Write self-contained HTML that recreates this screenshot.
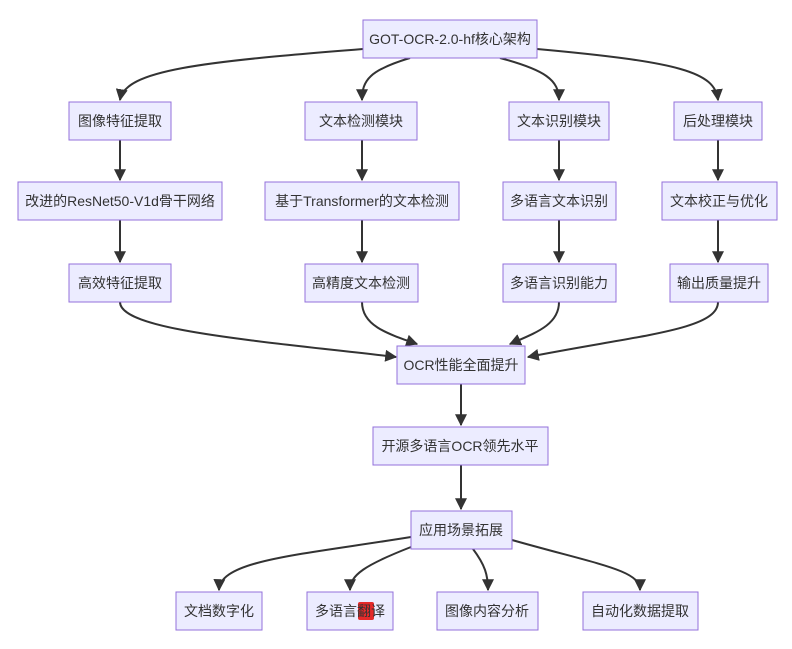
<!DOCTYPE html>
<html><head><meta charset="utf-8"><style>
html,body{margin:0;padding:0;background:#fff;}
svg{display:block;}
text{font-family:"Liberation Sans","Noto Sans CJK SC",sans-serif;font-size:14px;fill:#333;text-anchor:middle;dominant-baseline:central;}
.n{fill:#ECECFF;stroke:#9370DB;stroke-width:1;}
.e{fill:none;stroke:#333;stroke-width:2;marker-end:url(#a);}
</style></head><body>
<svg width="792" height="649" viewBox="0 0 792 649" xmlns="http://www.w3.org/2000/svg">
<defs><marker id="a" viewBox="0 0 10 10" refX="9" refY="5" markerWidth="6" markerHeight="6" orient="auto"><path d="M0,0L10,5L0,10z" fill="#333"/></marker></defs>
<!-- edges -->
<path class="e" d="M363,49 C200,62 125,70 120,100"/>
<path class="e" d="M410,58 C370,70 362,80 362,100"/>
<path class="e" d="M500,58 C545,70 559,80 559,100"/>
<path class="e" d="M537,49 C680,62 715,72 718,100"/>
<path class="e" d="M120,140 L120,180"/>
<path class="e" d="M362,140 L362,180"/>
<path class="e" d="M559,140 L559,180"/>
<path class="e" d="M718,140 L718,180"/>
<path class="e" d="M120,220 L120,262"/>
<path class="e" d="M362,220 L362,262"/>
<path class="e" d="M559,220 L559,262"/>
<path class="e" d="M718,220 L718,262"/>
<path class="e" d="M120,302 C120,330 250,340 396,357"/>
<path class="e" d="M362,302 C362,325 385,333 417,344"/>
<path class="e" d="M559,302 C559,325 535,333 510,344"/>
<path class="e" d="M718,302 C718,330 640,335 528,357"/>
<path class="e" d="M461,384 L461,425"/>
<path class="e" d="M461,465 L461,509"/>
<path class="e" d="M411,537 C300,555 220,560 219,590"/>
<path class="e" d="M411,547 C365,565 350,575 350,590"/>
<path class="e" d="M473,549 C485,565 488,575 488,590"/>
<path class="e" d="M512,540 C600,565 640,570 640,590"/>
<!-- nodes -->
<rect class="n" x="363" y="20" width="174" height="38"/><text x="450" y="39">GOT-OCR-2.0-hf核心架构</text>
<rect class="n" x="69" y="102" width="102" height="38"/><text x="120" y="121">图像特征提取</text>
<rect class="n" x="305" y="102" width="112" height="38"/><text x="361" y="121">文本检测模块</text>
<rect class="n" x="509" y="102" width="100" height="38"/><text x="559" y="121">文本识别模块</text>
<rect class="n" x="674" y="102" width="88" height="38"/><text x="718" y="121">后处理模块</text>
<rect class="n" x="18" y="182" width="204" height="38"/><text x="120" y="201">改进的ResNet50-V1d骨干网络</text>
<rect class="n" x="265" y="182" width="194" height="38"/><text x="362" y="201">基于Transformer的文本检测</text>
<rect class="n" x="503" y="182" width="113" height="38"/><text x="559" y="201">多语言文本识别</text>
<rect class="n" x="662" y="182" width="115" height="38"/><text x="719" y="201">文本校正与优化</text>
<rect class="n" x="69" y="264" width="102" height="38"/><text x="120" y="283">高效特征提取</text>
<rect class="n" x="305" y="264" width="113" height="38"/><text x="361" y="283">高精度文本检测</text>
<rect class="n" x="503" y="264" width="113" height="38"/><text x="559" y="283">多语言识别能力</text>
<rect class="n" x="670" y="264" width="98" height="38"/><text x="719" y="283">输出质量提升</text>
<rect class="n" x="397" y="346" width="128" height="38"/><text x="461" y="365">OCR性能全面提升</text>
<rect class="n" x="373" y="427" width="175" height="38"/><text x="460" y="446">开源多语言OCR领先水平</text>
<rect class="n" x="411" y="511" width="101" height="38"/><text x="461" y="530">应用场景拓展</text>
<rect class="n" x="176" y="592" width="86" height="38"/><text x="219" y="611">文档数字化</text>
<rect class="n" x="307" y="592" width="86" height="38"/>
<rect x="358" y="602" width="16" height="18" rx="2" fill="#e52a2a"/>
<text x="350" y="611">多语言翻译</text>
<rect class="n" x="437" y="592" width="101" height="38"/><text x="487" y="611">图像内容分析</text>
<rect class="n" x="583" y="592" width="115" height="38"/><text x="640" y="611">自动化数据提取</text>
</svg>
</body></html>
